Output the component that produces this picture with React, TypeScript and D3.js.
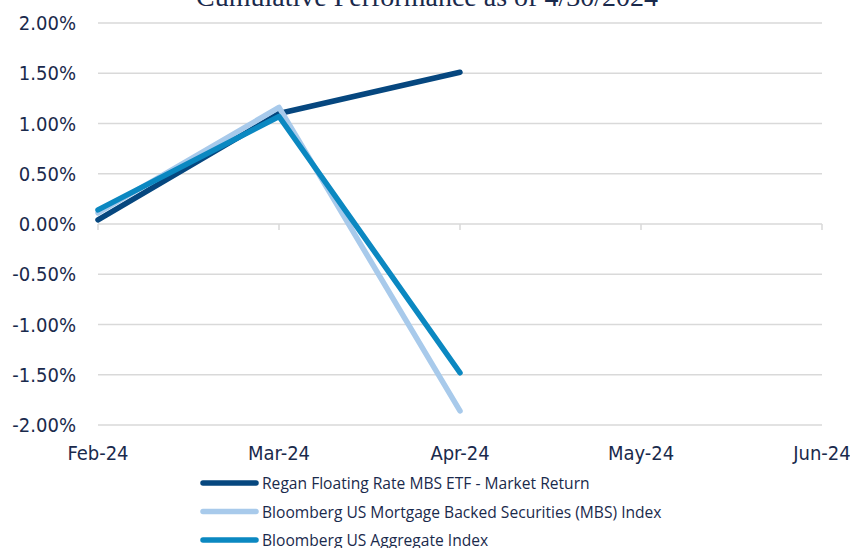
import { useEffect, useRef } from "react";
import * as d3 from "d3";

const categories = ["Feb-24", "Mar-24", "Apr-24", "May-24", "Jun-24"];
const yTicks = [2, 1.5, 1, 0.5, 0, -0.5, -1, -1.5, -2];

const reganValues = [0.04, 1.1, 1.51];
const mbsValues = [0.11, 1.16, -1.86];
const aggValues = [0.14, 1.07, -1.48];

const seriesNames = [
  "Regan Floating Rate MBS ETF - Market Return",
  "Bloomberg US Mortgage Backed Securities (MBS) Index",
  "Bloomberg US Aggregate Index",
];
const seriesColors = ["#06477f", "#a8caeb", "#0b88c1"];

const TITLE = "Cumulative Performance as of 4/30/2024";
const TEXT = "#1a2a4c";

export default function App() {
  const svgRef = useRef<SVGSVGElement>(null);

  useEffect(() => {
    if (!svgRef.current) return;
    const width = 850;
    const height = 548;
    const left = 98;
    const right = 822;
    const top = 23;
    const bottom = 425;

    const svg = d3.select(svgRef.current);
    svg.selectAll("*").remove();
    svg.attr("width", width).attr("height", height);

    const x = d3.scalePoint<string>().domain(categories).range([left, right]);
    const y = d3.scaleLinear().domain([-2, 2]).range([bottom, top]);

    // title (cut off at top, as in the source)
    svg
      .append("text")
      .attr("x", width / 2 + 2)
      .attr("y", 6)
      .attr("text-anchor", "middle")
      .attr("font-family", "Liberation Serif, serif")
      .attr("font-size", "28px")
      .attr("fill", TEXT)
      .text(TITLE);

    // gridlines
    svg
      .append("g")
      .selectAll("line")
      .data(yTicks)
      .enter()
      .append("line")
      .attr("x1", left)
      .attr("x2", right)
      .attr("y1", (d) => y(d))
      .attr("y2", (d) => y(d))
      .attr("stroke", "#d9d9d9")
      .attr("stroke-width", 1.5);

    // y labels
    svg
      .append("g")
      .selectAll("text")
      .data(yTicks)
      .enter()
      .append("text")
      .attr("x", 76)
      .attr("y", (d) => y(d) + 7)
      .attr("text-anchor", "end")
      .attr("font-family", "DejaVu Sans Condensed, Liberation Sans Narrow, sans-serif")
      .attr("font-size", "20px")
      .attr("fill", TEXT)
      .text((d) => d3.format(".2f")(d).replace("\u2212", "-") + "%");

    // x axis ticks on zero line
    svg
      .append("g")
      .selectAll("line")
      .data(categories)
      .enter()
      .append("line")
      .attr("x1", (d) => x(d)!)
      .attr("x2", (d) => x(d)!)
      .attr("y1", y(0))
      .attr("y2", y(0) + 6)
      .attr("stroke", "#d9d9d9")
      .attr("stroke-width", 1.5);

    // x labels
    svg
      .append("g")
      .selectAll("text")
      .data(categories)
      .enter()
      .append("text")
      .attr("x", (d) => x(d)!)
      .attr("y", 460)
      .attr("text-anchor", "middle")
      .attr("font-family", "DejaVu Sans Condensed, Liberation Sans Narrow, sans-serif")
      .attr("font-size", "20px")
      .attr("fill", TEXT)
      .text((d) => d);

    const line = d3
      .line<number>()
      .x((_, i) => x(categories[i])!)
      .y((d) => y(d));

    const allSeries = [reganValues, mbsValues, aggValues];
    allSeries.forEach((vals, i) => {
      svg
        .append("path")
        .attr("d", line(vals))
        .attr("fill", "none")
        .attr("stroke", seriesColors[i])
        .attr("stroke-width", 5.5)
        .attr("stroke-linecap", "round")
        .attr("stroke-linejoin", "round");
    });

    // legend
    const legend = svg.append("g");
    seriesNames.forEach((name, i) => {
      const ly = 483 + i * 28.5;
      legend
        .append("line")
        .attr("x1", 203)
        .attr("x2", 256)
        .attr("y1", ly)
        .attr("y2", ly)
        .attr("stroke", seriesColors[i])
        .attr("stroke-width", 5.5)
        .attr("stroke-linecap", "round");
      legend
        .append("text")
        .attr("x", 262)
        .attr("y", ly + 6)
        .attr("font-family", "Open Sans, sans-serif")
        .attr("font-size", "15.6px")
        .attr("fill", TEXT)
        .text(name);
    });
  }, []);

  return (
    <div style={{ position: "absolute", left: 0, top: 0 }}>
      <svg ref={svgRef} />
    </div>
  );
}
